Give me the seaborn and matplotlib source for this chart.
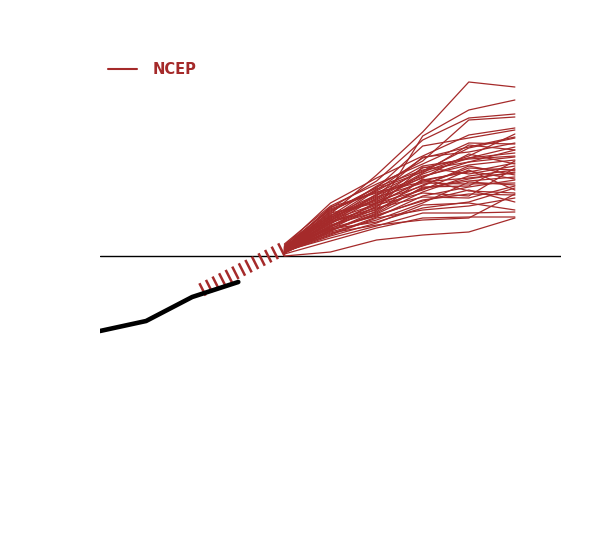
import numpy as np
import pandas as pd
import matplotlib
matplotlib.use("Agg")
import matplotlib.pyplot as plt
from matplotlib.lines import Line2D
import seaborn as sns

sns.set_style("white")
plt.rcParams['font.family'] = ['DejaVu Sans']
plt.rcParams['lines.scale_dashes'] = False

RED = "#a52a2a"

# Observed series (black)
obs_x = [0, 1, 2, 3]
obs_y = [-7.5, -6.5, -4.1, -2.6]

# Connector (thick dashed)
conn_x = [2.2, 4]
conn_y = [-3.4, 0.8]

# Ensemble members, x = 4..9
ens_x = [4, 5, 6, 7, 8, 9]
members = [
    [0.8, 4.2, 8.1, 12.4, 17.4, 16.9],
    [0.0, 0.4, 1.6, 2.1, 2.4, 3.8],
    [0.5, 2.5, 4.5, 12.0, 14.6, 15.6],
    [0.9, 4.8, 7.5, 11.6, 13.8, 14.2],
    [0.6, 4.0, 7.0, 9.5, 13.6, 13.9],
    [1.0, 5.3, 7.8, 10.0, 12.1, 12.8],
    [0.7, 4.5, 6.8, 11.0, 11.8, 12.6],
    [0.4, 3.5, 6.6, 9.8, 10.9, 11.9],
    [0.8, 4.9, 6.3, 8.5, 10.8, 11.8],
    [0.5, 3.8, 6.0, 9.9, 10.4, 11.3],
    [0.6, 3.2, 5.8, 8.8, 9.8, 10.9],
    [0.9, 4.4, 6.9, 8.6, 9.4, 10.6],
    [0.3, 2.9, 5.4, 8.2, 9.8, 10.3],
    [0.7, 4.1, 5.6, 7.9, 9.4, 9.9],
    [0.5, 3.3, 6.2, 8.0, 9.1, 9.6],
    [0.8, 3.6, 5.2, 7.6, 8.4, 9.3],
    [0.4, 3.0, 4.9, 8.9, 8.2, 9.0],
    [0.6, 2.7, 5.0, 7.1, 8.8, 8.6],
    [1.1, 4.6, 6.4, 7.4, 7.8, 8.3],
    [0.5, 3.9, 5.5, 7.0, 9.0, 8.1],
    [0.7, 3.4, 4.6, 6.8, 7.5, 7.9],
    [0.3, 2.6, 4.2, 6.4, 8.0, 8.6],
    [0.9, 3.7, 5.9, 7.3, 7.2, 7.3],
    [0.6, 2.9, 4.7, 6.7, 7.7, 8.4],
    [0.4, 2.2, 3.9, 6.0, 6.9, 7.6],
    [0.8, 4.3, 5.3, 6.6, 8.6, 6.6],
    [0.5, 3.1, 4.4, 7.7, 6.5, 6.3],
    [0.7, 2.8, 4.0, 5.6, 6.2, 6.1],
    [0.3, 2.4, 3.6, 5.3, 7.4, 7.1],
    [0.6, 3.5, 4.8, 5.9, 5.8, 7.0],
    [0.9, 2.7, 3.4, 4.8, 5.4, 6.8],
    [0.4, 2.0, 3.3, 5.1, 5.3, 4.6],
    [0.5, 1.8, 3.0, 4.3, 4.3, 4.4],
    [0.2, 1.5, 2.8, 3.8, 3.9, 3.9],
    [0.6, 2.3, 3.1, 3.6, 3.8, 6.2],
    [0.7, 3.3, 5.1, 6.3, 6.0, 8.8],
    [0.5, 2.1, 3.8, 4.6, 5.0, 5.8],
    [1.2, 5.0, 7.2, 9.2, 11.3, 11.2],
    [0.4, 3.6, 5.7, 8.3, 11.1, 10.6],
    [0.8, 4.7, 6.5, 9.0, 9.7, 10.0],
    [0.6, 3.0, 5.3, 7.5, 8.5, 7.7],
    [0.3, 2.5, 4.3, 6.9, 7.0, 9.5],
    [0.9, 4.0, 6.1, 7.8, 10.2, 9.2],
    [0.5, 2.6, 4.1, 5.5, 6.6, 5.4],
    [0.7, 3.8, 6.7, 8.4, 10.0, 12.2],
]

legend_label = "NCEP"

rows = []
for i, m in enumerate(members):
    for xv, yv in zip(ens_x, m):
        rows.append({"member": i, "x": xv, "y": yv})
ens_df = pd.DataFrame(rows)

fig = plt.figure(figsize=(6, 5.4), dpi=100)
ax = fig.add_axes([100 / 600, 34 / 540, 461 / 600, 450 / 540])

ax.axhline(0, color="black", lw=1.0, zorder=1)

sns.lineplot(data=ens_df, x="x", y="y", units="member", estimator=None,
             color=RED, lw=0.9, ax=ax, legend=False, zorder=2)

sns.lineplot(x=conn_x, y=conn_y, color=RED, lw=10.0,
             linestyle=(0, (1.8, 3.5)), solid_capstyle="butt",
             dash_capstyle="butt", ax=ax, zorder=3)

sns.lineplot(x=obs_x, y=obs_y, color="black", lw=3.3, ax=ax, zorder=4)

ax.set_xlim(0, 10)
ax.set_ylim(-25, 20)
ax.axis("off")

handle = Line2D([0], [0], color=RED, lw=1.5)
leg = fig.legend([handle], [legend_label], loc="upper left",
                 bbox_to_anchor=(102 / 600, 1 - 56 / 540),
                 frameon=False, handlelength=2.0, handletextpad=1.1,
                 borderaxespad=0.0, borderpad=0.4,
                 prop={"weight": "bold", "size": 10.5}, labelcolor=RED)

fig.savefig("out.png", dpi=100)
